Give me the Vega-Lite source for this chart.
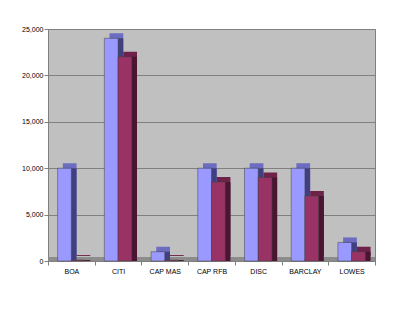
{
  "$schema": "https://vega.github.io/schema/vega-lite/v6.json",
  "width": 327,
  "height": 232,
  "autosize": {"type": "none"},
  "padding": {"left": 48, "top": 29, "right": 25, "bottom": 48},
  "background": "white",
  "config": {
    "view": {"fill": "#C0C0C0", "stroke": "#808080", "strokeWidth": 1},
    "font": "Liberation Sans"
  },
  "data": {
    "values": [
      {"bank": "BOA", "series": "A", "value": 10000},
      {"bank": "BOA", "series": "B", "value": 100},
      {"bank": "CITI", "series": "A", "value": 24000},
      {"bank": "CITI", "series": "B", "value": 22000},
      {"bank": "CAP MAS", "series": "A", "value": 1000},
      {"bank": "CAP MAS", "series": "B", "value": 100},
      {"bank": "CAP RFB", "series": "A", "value": 10000},
      {"bank": "CAP RFB", "series": "B", "value": 8500},
      {"bank": "DISC", "series": "A", "value": 10000},
      {"bank": "DISC", "series": "B", "value": 9000},
      {"bank": "BARCLAY", "series": "A", "value": 10000},
      {"bank": "BARCLAY", "series": "B", "value": 7000},
      {"bank": "LOWES", "series": "A", "value": 2000},
      {"bank": "LOWES", "series": "B", "value": 1000}
    ]
  },
  "encoding": {
    "x": {
      "field": "bank",
      "type": "nominal",
      "sort": ["BOA", "CITI", "CAP MAS", "CAP RFB", "DISC", "BARCLAY", "LOWES"],
      "scale": {"paddingInner": 0, "paddingOuter": 0},
      "axis": {
        "title": null,
        "labelAngle": 0,
        "labelFontSize": 7,
        "labelColor": "#000000",
        "labelPadding": 2,
        "tickBand": "extent",
        "tickSize": 4,
        "tickColor": "#808080",
        "domainColor": "#808080",
        "grid": false
      }
    },
    "y": {
      "field": "value",
      "type": "quantitative",
      "scale": {"domain": [0, 25000], "nice": false},
      "axis": {
        "title": null,
        "values": [0, 5000, 10000, 15000, 20000, 25000],
        "format": ",.0f",
        "labelFontSize": 7,
        "labelColor": "#000000",
        "labelPadding": 1,
        "tickSize": 4,
        "tickColor": "#808080",
        "domainColor": "#808080",
        "grid": true,
        "gridColor": "#808080",
        "gridWidth": 1
      }
    }
  },
  "layer": [
    {
      "mark": {"type": "rule", "color": "#8C8C8C", "strokeWidth": 4, "yOffset": -2},
      "encoding": {"y": {"datum": 0}, "x": null}
    },
    {
      "mark": {"type": "bar", "yOffset": -5, "y2Offset": -5},
      "encoding": {
        "xOffset": {"field": "series", "type": "nominal", "scale": {"paddingInner": 0, "paddingOuter": 0.7, "align": 0.77}},
        "color": {"field": "series", "type": "nominal", "scale": {"range": ["#6C6CC0", "#6E2249"]}, "legend": null}
      }
    },
    {
      "mark": {"type": "bar", "y2Offset": -5},
      "encoding": {
        "xOffset": {"field": "series", "type": "nominal", "scale": {"paddingInner": 0, "paddingOuter": 0.7, "align": 0.77}},
        "color": {"field": "series", "type": "nominal", "scale": {"range": ["#40407F", "#4A1530"]}, "legend": null}
      }
    },
    {
      "mark": {"type": "bar", "stroke": "#404040", "strokeWidth": 0.5},
      "encoding": {
        "xOffset": {"field": "series", "type": "nominal", "scale": {"paddingInner": 0, "paddingOuter": 0.7}},
        "color": {"field": "series", "type": "nominal", "scale": {"range": ["#9999FF", "#993366"]}, "legend": null}
      }
    }
  ],
  "resolve": {"scale": {"color": "independent", "xOffset": "independent"}}
}
